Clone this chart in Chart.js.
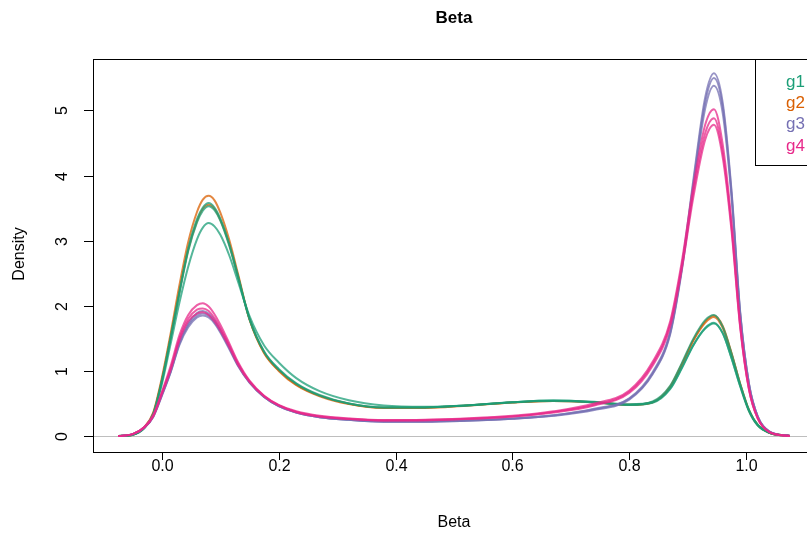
<!DOCTYPE html>
<html>
<head>
<meta charset="utf-8">
<script src="https://cdn.jsdelivr.net/npm/chart.js@4/dist/chart.umd.min.js"></script>
<style>
  html, body { margin: 0; padding: 0; background: #fff; overflow: hidden; }
  #wrap { width: 908px; height: 535px; }
</style>
</head>
<body>
<div id="wrap"><canvas id="densityChart" width="908" height="535"></canvas></div>
<script>
// beta values the densities were evaluated at
const betaGrid = [-0.075, -0.05, -0.03, -0.015, 0, 0.015, 0.03, 0.045, 0.06, 0.07,
  0.08, 0.09, 0.10, 0.115, 0.13, 0.15, 0.175, 0.2, 0.23, 0.27,
  0.32, 0.38, 0.45, 0.52, 0.6, 0.67, 0.74, 0.8, 0.84, 0.87,
  0.89, 0.91, 0.93, 0.945, 0.96, 0.975, 0.99, 1.005, 1.02, 1.04, 1.075];

// one density curve per sample
const g1Sample1 = [0, 0.02, 0.13, 0.34, 0.86, 1.52, 2.22, 2.88, 3.33, 3.51, 3.58, 3.51, 3.34, 2.96, 2.47, 1.8, 1.3, 1.03, 0.81, 0.63, 0.5, 0.44, 0.44, 0.47, 0.52, 0.545, 0.52, 0.48, 0.53, 0.77, 1.12, 1.5, 1.78, 1.86, 1.68, 1.27, 0.8, 0.4, 0.17, 0.05, 0];
const g1Sample2 = [0, 0.02, 0.13, 0.33, 0.84, 1.5, 2.19, 2.84, 3.28, 3.46, 3.53, 3.47, 3.31, 2.93, 2.45, 1.79, 1.29, 1.02, 0.8, 0.62, 0.5, 0.44, 0.44, 0.47, 0.52, 0.54, 0.515, 0.475, 0.51, 0.72, 1.04, 1.4, 1.66, 1.74, 1.58, 1.2, 0.76, 0.38, 0.16, 0.05, 0];
const g1Sample3 = [0, 0.02, 0.12, 0.32, 0.8, 1.42, 2.05, 2.6, 3.02, 3.2, 3.27, 3.22, 3.09, 2.78, 2.38, 1.84, 1.39, 1.13, 0.89, 0.69, 0.55, 0.47, 0.45, 0.47, 0.52, 0.545, 0.525, 0.49, 0.52, 0.73, 1.05, 1.4, 1.65, 1.73, 1.58, 1.2, 0.77, 0.39, 0.17, 0.05, 0];
const g2Sample1 = [0, 0.02, 0.14, 0.36, 0.9, 1.58, 2.32, 2.98, 3.44, 3.63, 3.69, 3.62, 3.43, 3.02, 2.5, 1.79, 1.27, 1.0, 0.78, 0.61, 0.49, 0.43, 0.43, 0.465, 0.515, 0.54, 0.52, 0.48, 0.52, 0.75, 1.1, 1.48, 1.76, 1.85, 1.69, 1.28, 0.8, 0.4, 0.17, 0.05, 0];
const g2Sample2 = [0, 0.02, 0.13, 0.34, 0.86, 1.52, 2.22, 2.86, 3.3, 3.49, 3.55, 3.49, 3.32, 2.95, 2.46, 1.79, 1.28, 1.01, 0.79, 0.62, 0.495, 0.435, 0.435, 0.47, 0.515, 0.54, 0.52, 0.48, 0.52, 0.76, 1.1, 1.47, 1.74, 1.83, 1.66, 1.26, 0.79, 0.39, 0.17, 0.05, 0];
const g3Sample1 = [0, 0.03, 0.13, 0.3, 0.64, 1.0, 1.44, 1.73, 1.89, 1.92, 1.88, 1.78, 1.63, 1.37, 1.1, 0.83, 0.6, 0.46, 0.36, 0.29, 0.25, 0.225, 0.225, 0.24, 0.27, 0.32, 0.42, 0.58, 0.98, 1.6, 2.6, 3.95, 5.2, 5.57, 5.12, 3.78, 1.9, 0.8, 0.3, 0.07, 0];
const g3Sample2 = [0, 0.03, 0.13, 0.3, 0.63, 0.99, 1.42, 1.7, 1.85, 1.88, 1.85, 1.75, 1.61, 1.36, 1.09, 0.82, 0.6, 0.46, 0.36, 0.29, 0.25, 0.22, 0.22, 0.235, 0.265, 0.315, 0.41, 0.57, 0.96, 1.58, 2.57, 3.9, 5.13, 5.5, 5.06, 3.74, 1.88, 0.8, 0.3, 0.07, 0];
const g3Sample3 = [0, 0.03, 0.13, 0.29, 0.62, 0.98, 1.4, 1.67, 1.82, 1.85, 1.82, 1.73, 1.59, 1.34, 1.08, 0.82, 0.6, 0.46, 0.36, 0.29, 0.25, 0.22, 0.22, 0.235, 0.265, 0.31, 0.4, 0.56, 0.95, 1.56, 2.54, 3.84, 5.03, 5.38, 4.96, 3.68, 1.86, 0.79, 0.3, 0.07, 0];
const g4Sample1 = [0, 0.03, 0.14, 0.32, 0.68, 1.08, 1.55, 1.86, 2.01, 2.04, 1.99, 1.87, 1.71, 1.43, 1.14, 0.85, 0.62, 0.48, 0.38, 0.31, 0.27, 0.245, 0.25, 0.27, 0.31, 0.38, 0.5, 0.7, 1.14, 1.76, 2.68, 3.85, 4.78, 5.02, 4.48, 3.3, 1.72, 0.73, 0.27, 0.06, 0];
const g4Sample2 = [0, 0.03, 0.14, 0.31, 0.66, 1.04, 1.5, 1.8, 1.94, 1.96, 1.92, 1.81, 1.66, 1.4, 1.12, 0.84, 0.61, 0.47, 0.37, 0.3, 0.265, 0.24, 0.245, 0.265, 0.3, 0.37, 0.48, 0.68, 1.11, 1.72, 2.62, 3.76, 4.65, 4.88, 4.36, 3.22, 1.68, 0.72, 0.27, 0.06, 0];
const g4Sample3 = [0, 0.03, 0.13, 0.3, 0.65, 1.02, 1.47, 1.76, 1.88, 1.9, 1.86, 1.76, 1.62, 1.37, 1.1, 0.83, 0.61, 0.47, 0.37, 0.3, 0.26, 0.24, 0.24, 0.26, 0.3, 0.36, 0.47, 0.66, 1.08, 1.68, 2.57, 3.68, 4.55, 4.78, 4.28, 3.16, 1.66, 0.71, 0.27, 0.06, 0];

const groupNames = ["g1", "g2", "g3", "g4"];
const groupColors = ["#1B9E77", "#D95F02", "#7570B3", "#E7298A"];
const lineColors = ["rgba(27,158,119,0.75)", "rgba(217,95,2,0.75)", "rgba(117,112,179,0.75)", "rgba(231,41,138,0.75)"];

const xTicks = [0, 0.2, 0.4, 0.6, 0.8, 1.0];
const yTicks = [0, 1, 2, 3, 4, 5];

// drawn bottom to top
const curves = [
  { group: 1, values: g2Sample1 },
  { group: 1, values: g2Sample2 },
  { group: 0, values: g1Sample3 },
  { group: 0, values: g1Sample2 },
  { group: 0, values: g1Sample1 },
  { group: 2, values: g3Sample3 },
  { group: 2, values: g3Sample2 },
  { group: 2, values: g3Sample1 },
  { group: 3, values: g4Sample3 },
  { group: 3, values: g4Sample2 },
  { group: 3, values: g4Sample1 }
];

const FONT = '"Liberation Sans", Arial, Helvetica, sans-serif';

/** R style frame: zero line, box, ticks, titles and legend */
const baseGraphics = {
  id: "baseGraphics",
  beforeDatasetsDraw(chart) {
    const { ctx, chartArea: a, scales: { y } } = chart;
    const y0 = Math.round(y.getPixelForValue(0)) + 0.5;
    ctx.save();
    ctx.strokeStyle = "#bebebe";
    ctx.lineWidth = 1;
    ctx.beginPath();
    ctx.moveTo(a.left, y0);
    ctx.lineTo(a.right, y0);
    ctx.stroke();
    ctx.restore();
  },
  afterDraw(chart) {
    const { ctx, chartArea: a, scales: { x, y } } = chart;
    ctx.save();
    ctx.strokeStyle = "#000";
    ctx.fillStyle = "#000";
    ctx.lineWidth = 1;
    ctx.strokeRect(a.left + 0.5, a.top + 0.5, a.right - a.left, a.bottom - a.top);

    ctx.font = "16px " + FONT;
    ctx.textAlign = "center";
    ctx.textBaseline = "middle";
    xTicks.forEach(v => {
      const px = Math.round(x.getPixelForValue(v)) + 0.5;
      ctx.beginPath();
      ctx.moveTo(px, a.bottom);
      ctx.lineTo(px, a.bottom + 8);
      ctx.stroke();
      ctx.fillText(v.toFixed(1), px, 467);
    });
    yTicks.forEach(v => {
      const py = Math.round(y.getPixelForValue(v)) + 0.5;
      ctx.beginPath();
      ctx.moveTo(a.left - 9, py);
      ctx.lineTo(a.left, py);
      ctx.stroke();
      ctx.save();
      ctx.translate(63, py);
      ctx.rotate(-Math.PI / 2);
      ctx.fillText(String(v), 0, 0);
      ctx.restore();
    });

    // axis titles
    const midX = (a.left + a.right) / 2;
    ctx.fillText("Beta", midX, 523);
    ctx.save();
    ctx.translate(20, 254);
    ctx.rotate(-Math.PI / 2);
    ctx.fillText("Density", 0, 0);
    ctx.restore();

    ctx.font = "bold 17px " + FONT;
    ctx.fillText("Beta", midX, 18);

    // legend box, top right
    ctx.fillStyle = "#fff";
    ctx.fillRect(755.5, a.top + 0.5, a.right - 755.5, 106);
    ctx.strokeRect(755.5, a.top + 0.5, a.right - 755.5, 106);
    ctx.font = "17px " + FONT;
    ctx.textAlign = "left";
    groupNames.forEach((name, i) => {
      ctx.fillStyle = groupColors[i];
      ctx.fillText(name, 786, 82 + i * 21.4);
    });
    ctx.restore();
  }
};

const datasets = curves.map((c, i) => ({
  label: groupNames[c.group],
  data: betaGrid.map((b, k) => ({ x: b, y: c.values[k] })),
  borderColor: lineColors[c.group],
  borderWidth: 2,
  pointRadius: 0,
  fill: false,
  cubicInterpolationMode: "monotone",
  order: curves.length - i
}));

new Chart(document.getElementById("densityChart"), {
  type: "line",
  data: { datasets },
  options: {
    responsive: false,
    devicePixelRatio: 1,
    animation: false,
    layout: { padding: { left: 0, right: 93, top: 59, bottom: 0 } },
    plugins: { legend: { display: false }, title: { display: false }, tooltip: { enabled: false } },
    scales: {
      x: {
        type: "linear",
        min: -0.118,
        max: 1.118,
        ticks: { display: false },
        grid: { display: false },
        border: { display: false },
        afterFit: s => { s.height = 83; }
      },
      y: {
        type: "linear",
        min: -0.245,
        max: 5.79,
        ticks: { display: false },
        grid: { display: false },
        border: { display: false },
        afterFit: s => { s.width = 93; }
      }
    }
  },
  plugins: [baseGraphics]
});
</script>
</body>
</html>
